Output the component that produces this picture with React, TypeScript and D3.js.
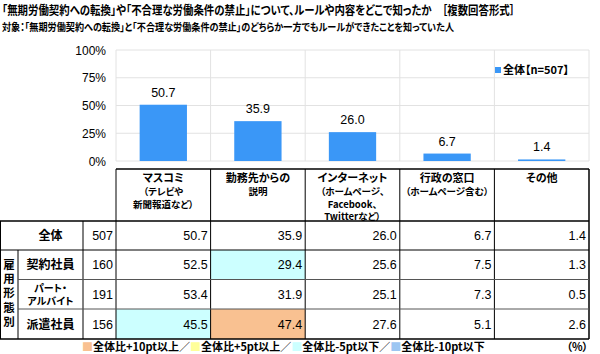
import React from "react";
import * as d3 from "d3";

const categories = ["マスコミ", "勤務先からの", "インターネット", "行政の窓口", "その他"];
const categorySubLines = [
  ["（テレビや", "新聞報道など）"],
  ["説明"],
  ["（ホームページ、", "Facebook、", "Twitterなど）"],
  ["（ホームページ含む）"],
  [],
];
const totalValues = [50.7, 35.9, 26.0, 6.7, 1.4];
const yTicks = [0, 25, 50, 75, 100];

const rowLabels = ["全体", "契約社員", "パート・\nアルバイト", "派遣社員"];
const rowCounts = [507, 160, 191, 156];
const rowValues = [
  [50.7, 35.9, 26.0, 6.7, 1.4],
  [52.5, 29.4, 25.6, 7.5, 1.3],
  [53.4, 31.9, 25.1, 7.3, 0.5],
  [45.5, 47.4, 27.6, 5.1, 2.6],
];
const groupLabel = "雇用形態別";

const legendItems = [
  { label: "全体比+10pt以上", color: "#f9c191" },
  { label: "全体比+5pt以上", color: "#ffff99" },
  { label: "全体比-5pt以下", color: "#ccffff" },
  { label: "全体比-10pt以下", color: "#9cc6f2" },
];

const title1 =
  "「無期労働契約への転換」や「不合理な労働条件の禁止」について、ルールや内容をどこで知ったか　［複数回答形式］";
const title2 =
  "対象：「無期労働契約への転換」と「不合理な労働条件の禁止」のどちらか一方でもルールができたことを知っていた人";

const JP = '"Noto Sans CJK JP", "MS PGothic", sans-serif';
const NUM = '"Liberation Sans", Arial, sans-serif';
const BAR = "#3a97f7";

function cellColor(v: number, base: number) {
  const d = v - base;
  if (d >= 10) return legendItems[0].color;
  if (d >= 5) return legendItems[1].color;
  if (d <= -10) return legendItems[3].color;
  if (d <= -5) return legendItems[2].color;
  return "none";
}

export default function App() {
  const W = 600;
  const H = 354;
  const plotLeft = 116;
  const plotRight = 589;
  const plotTop = 50;
  const plotBottom = 161;

  const x = d3
    .scaleBand<string>()
    .domain(categories)
    .range([plotLeft, plotRight])
    .paddingInner(0.5)
    .paddingOuter(0.25);
  const step = x.step();
  const colLeft = (i: number) => plotLeft + i * step;
  const y = d3.scaleLinear().domain([0, 100]).range([plotBottom, plotTop]);

  // table layout
  const headTop = 169;
  const headBottom = 221;
  const rowEdges = [221, 250, 279.5, 309, 339];
  const labelRight = 83;
  const groupRight = 18;

  return (
    <svg
      width={W}
      height={H}
      style={{ position: "absolute", left: 0, top: 0, fontFeatureSettings: '"palt"' }}
    >
      <rect width={W} height={H} fill="#fff" />
      <text
        x={2}
        y={15}
        fontFamily={JP}
        fontWeight="bold"
        fontSize={12}
        fill="#000"
        textLength={513}
        lengthAdjust="spacingAndGlyphs"
      >
        {title1}
      </text>
      <text
        x={2}
        y={31}
        fontFamily={JP}
        fontWeight="bold"
        fontSize={10.5}
        fill="#000"
        textLength={452}
        lengthAdjust="spacingAndGlyphs"
      >
        {title2}
      </text>

      {/* grid */}
      {yTicks.map((t) => (
        <g key={t}>
          <line x1={plotLeft} x2={plotRight} y1={y(t)} y2={y(t)} stroke="#e2e2e2" />
          <text
            x={106}
            y={y(t) + 4.5}
            textAnchor="end"
            fontFamily={NUM}
            fontSize={12}
            fill="#000"
          >
            {t}%
          </text>
        </g>
      ))}
      {categories.map((c, i) => (
        <line
          key={c}
          x1={colLeft(i)}
          x2={colLeft(i)}
          y1={plotTop}
          y2={plotBottom}
          stroke="#e2e2e2"
        />
      ))}
      <line x1={plotRight} x2={plotRight} y1={plotTop} y2={plotBottom} stroke="#e2e2e2" />

      {/* bars */}
      {categories.map((c, i) => (
        <g key={c}>
          <rect
            x={x(c)}
            y={y(totalValues[i])}
            width={x.bandwidth()}
            height={plotBottom - y(totalValues[i])}
            fill={BAR}
          />
          <text
            x={(x(c) ?? 0) + x.bandwidth() / 2}
            y={y(totalValues[i]) - 8}
            textAnchor="middle"
            fontFamily={NUM}
            fontSize={12.5}
            fill="#000"
          >
            {totalValues[i].toFixed(1)}
          </text>
        </g>
      ))}

      {/* legend */}
      <rect x={495} y={67} width={6} height={6} fill={BAR} />
      <text x={503} y={74} fontFamily={JP} fontWeight="bold" fontSize={11} fill="#000">
        全体【n={rowCounts[0]}】
      </text>

      {/* table cell fills */}
      {rowValues.map((row, r) =>
        row.map((v, i) => {
          const fill = r === 0 ? "none" : cellColor(v, rowValues[0][i]);
          return fill === "none" ? null : (
            <rect
              key={`${r}-${i}`}
              x={colLeft(i)}
              y={rowEdges[r]}
              width={step}
              height={rowEdges[r + 1] - rowEdges[r]}
              fill={fill}
            />
          );
        })
      )}

      {/* table lines */}
      <g stroke="#000" strokeWidth={1}>
        <line x1={plotLeft} x2={plotRight} y1={headTop} y2={headTop} strokeWidth={1.5} />
        {categories.map((c, i) => (
          <line key={c} x1={colLeft(i)} x2={colLeft(i)} y1={headTop} y2={rowEdges[4]} />
        ))}
        <line x1={plotRight} x2={plotRight} y1={headTop} y2={rowEdges[4]} strokeWidth={1.5} />
        <line x1={0.5} x2={0.5} y1={headBottom} y2={rowEdges[4]} />
        <line x1={labelRight} x2={labelRight} y1={headBottom} y2={rowEdges[4]} />
        <line x1={groupRight} x2={groupRight} y1={rowEdges[1]} y2={rowEdges[4]} />
        <line x1={0} x2={plotRight} y1={rowEdges[0]} y2={rowEdges[0]} strokeWidth={1.5} />
        <line x1={0} x2={plotRight} y1={rowEdges[1]} y2={rowEdges[1]} />
        <line x1={groupRight} x2={plotRight} y1={rowEdges[2]} y2={rowEdges[2]} stroke="#555" />
        <line x1={groupRight} x2={plotRight} y1={rowEdges[3]} y2={rowEdges[3]} stroke="#555" />
        <line x1={0} x2={plotRight} y1={rowEdges[4]} y2={rowEdges[4]} strokeWidth={1.5} />
      </g>

      {/* header text */}
      {categories.map((c, i) => {
        const cx = colLeft(i) + step / 2;
        return (
          <g key={c} fontFamily={JP} fontWeight="bold" textAnchor="middle" fill="#000">
            <text x={cx} y={182} fontSize={11}>
              {c}
            </text>
            {categorySubLines[i].map((s, k) => (
              <text key={k} x={cx} y={195 + k * 12.5} fontSize={9.5}>
                {s}
              </text>
            ))}
          </g>
        );
      })}

      {/* group label, vertical */}
      <text
        x={groupRight / 2}
        y={(rowEdges[1] + rowEdges[4]) / 2}
        textAnchor="middle"
        fontFamily={JP}
        fontWeight="bold"
        fontSize={11.5}
        letterSpacing={2.8}
        style={{ writingMode: "vertical-rl" }}
      >
        {groupLabel}
      </text>

      {/* rows */}
      {rowLabels.map((lab, r) => {
        const top = rowEdges[r];
        const mid = (top + rowEdges[r + 1]) / 2;
        const lines = lab.split("\n");
        return (
          <g key={lab}>
            {lines.length > 1 ? (
              <text
                x={(groupRight + labelRight) / 2}
                textAnchor="middle"
                fontFamily={JP}
                fontWeight="bold"
                fontSize={10}
              >
                {lines.map((ln, k) => (
                  <tspan key={k} x={(groupRight + labelRight) / 2} y={mid + 4 + (k - 0.5) * 13.5}>
                    {ln}
                  </tspan>
                ))}
              </text>
            ) : (
              <text
                x={(groupRight + labelRight) / 2}
                y={mid + 4.5}
                textAnchor="middle"
                fontFamily={JP}
                fontWeight="bold"
                fontSize={12}
              >
                {lab}
              </text>
            )}
            <text x={113} y={mid + 4.5} textAnchor="end" fontFamily={NUM} fontSize={12.5}>
              {rowCounts[r]}
            </text>
            {rowValues[r].map((v, i) => (
              <text
                key={i}
                x={colLeft(i) + step - 3}
                y={mid + 4.5}
                textAnchor="end"
                fontFamily={NUM}
                fontSize={12.5}
              >
                {v.toFixed(1)}
              </text>
            ))}
          </g>
        );
      })}

      {/* bottom legend */}
      <text x={82} y={351} fontFamily={JP} fontWeight="bold" fontSize={11}>
        {legendItems.map((it, k) => (
          <React.Fragment key={it.label}>
            <tspan fill={it.color}>■</tspan>
            <tspan fill="#000">
              {it.label}
              {k < legendItems.length - 1 ? "／" : ""}
            </tspan>
          </React.Fragment>
        ))}
      </text>
      <text x={588} y={351} textAnchor="end" fontFamily={JP} fontWeight="bold" fontSize={11}>
        （%）
      </text>
    </svg>
  );
}
